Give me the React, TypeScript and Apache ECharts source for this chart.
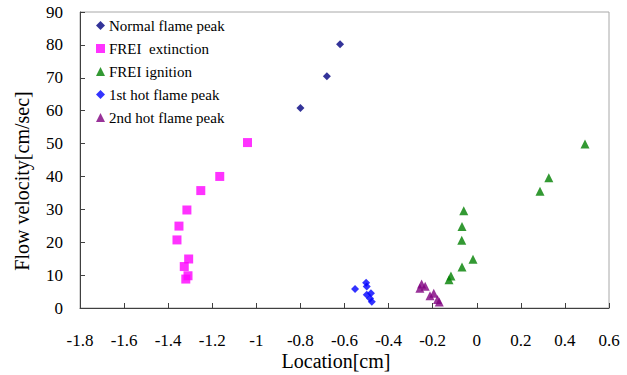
import React, { useEffect, useRef } from "react";
import * as echarts from "echarts";

const seriesNames = [
  "Normal flame peak",
  "FREI  extinction",
  "FREI ignition",
  "1st hot flame peak",
  "2nd hot flame peak",
];

const normalFlamePeak: [number, number][] = [
  [-0.8, 60.8],
  [-0.68, 70.5],
  [-0.62, 80.2],
];

const freiExtinction: [number, number][] = [
  [-1.04, 50.3],
  [-1.166, 40.0],
  [-1.252, 35.7],
  [-1.315, 29.8],
  [-1.351, 24.9],
  [-1.36, 20.7],
  [-1.307, 14.9],
  [-1.327, 12.6],
  [-1.31, 9.8],
  [-1.32, 8.8],
];

const freiIgnition: [number, number][] = [
  [0.491, 49.9],
  [0.327, 39.6],
  [0.287, 35.5],
  [-0.059, 29.6],
  [-0.067, 24.8],
  [-0.068, 20.6],
  [-0.017, 14.8],
  [-0.067, 12.5],
  [-0.117, 9.7],
  [-0.126, 8.6],
];

const firstHotFlamePeak: [number, number][] = [
  [-0.552, 5.8],
  [-0.502, 7.7],
  [-0.499, 6.5],
  [-0.499, 4.0],
  [-0.48, 4.5],
  [-0.484, 2.9],
  [-0.476, 1.9],
];

const secondHotFlamePeak: [number, number][] = [
  [-0.258, 6.0],
  [-0.25, 7.3],
  [-0.234, 6.6],
  [-0.212, 3.7],
  [-0.195, 4.5],
  [-0.178, 2.6],
  [-0.17, 1.8],
];

const colors = ["#000080", "#ff00ff", "#008000", "#0000ff", "#800080"];
const symbols = ["diamond", "rect", "triangle", "diamond", "triangle"];
const symbolSizes = [8, 9, 9, 8, 9];
const allData = [
  normalFlamePeak,
  freiExtinction,
  freiIgnition,
  firstHotFlamePeak,
  secondHotFlamePeak,
];

const xMin = -1.8;
const xMax = 0.6;
const xStep = 0.2;
const yMin = 0;
const yMax = 90;
const yStep = 10;

const FONT = "'Liberation Serif', 'Times New Roman', Times, serif";

export default function App() {
  const ref = useRef<HTMLDivElement>(null);
  useEffect(() => {
    document.body.style.margin = "0";
    if (!ref.current) return;
    const chart = echarts.init(ref.current, null, { renderer: "svg" });
    chart.setOption({
      animation: false,
      textStyle: { fontFamily: FONT, color: "#000" },
      grid: {
        left: 80,
        right: 18,
        top: 12,
        bottom: 67,
        show: true,
        borderColor: "#a8a8a8",
        borderWidth: 1,
        backgroundColor: "transparent",
      },
      legend: {
        orient: "vertical",
        left: 91,
        top: 13,
        itemWidth: 9,
        itemHeight: 9,
        itemGap: 8,
        textStyle: { fontFamily: FONT, fontSize: 15, color: "#000", padding: [0, 0, 0, -1] },
        data: seriesNames,
      },
      xAxis: {
        type: "value",
        min: xMin,
        max: xMax,
        interval: xStep,
        splitLine: { show: false },
        axisLine: { onZero: false, lineStyle: { color: "#404040", width: 1 } },
        axisTick: { inside: true, length: 5, lineStyle: { color: "#404040" } },
        axisLabel: {
          fontFamily: FONT,
          fontSize: 17,
          color: "#000",
          margin: 24,
          formatter: (v: number) => String(Math.round(v * 10) / 10),
        },
      },
      yAxis: {
        type: "value",
        min: yMin,
        max: yMax,
        interval: yStep,
        splitLine: { show: false },
        axisLine: { onZero: false, lineStyle: { color: "#404040", width: 1 } },
        axisTick: { inside: true, length: 5, lineStyle: { color: "#404040" } },
        axisLabel: { fontFamily: FONT, fontSize: 17, color: "#000", margin: 17 },
      },
      graphic: [
        {
          type: "text",
          x: 336,
          y: 351,
          style: {
            text: "Location[cm]",
            font: `20px ${FONT}`,
            fill: "#000",
            align: "center",
            verticalAlign: "top",
          },
        },
        {
          type: "text",
          x: 12,
          y: 181,
          rotation: Math.PI / 2,
          style: {
            text: "Flow velocity[cm/sec]",
            font: `20px ${FONT}`,
            fill: "#000",
            align: "center",
            verticalAlign: "top",
          },
        },
      ],
      series: seriesNames.map((name, i) => ({
        name,
        type: "scatter",
        data: allData[i],
        symbol: symbols[i],
        symbolSize: symbolSizes[i],
        itemStyle: { color: colors[i] },
      })),
    });
    return () => chart.dispose();
  }, []);
  return <div ref={ref} style={{ width: 627, height: 375 }} />;
}
